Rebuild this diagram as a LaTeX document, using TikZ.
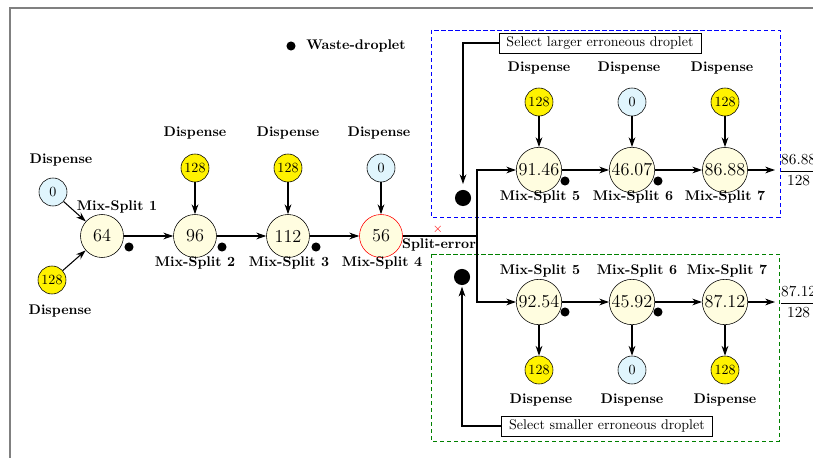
\documentclass[tikz,border=0pt]{standalone}
\usepackage{tikz}
\usetikzlibrary{arrows.meta, calc, positioning}
\usepackage{xcolor}

\begin{document}
\begin{tikzpicture}[x=0.714pt, y=-0.714pt,
    mixnode/.style={circle, draw, fill=yellow!12, font=\fontsize{13}{15}\selectfont, minimum size=30.7pt, inner sep=0.8pt},
    dispone/.style={circle, draw, fill=yellow, minimum size=20pt, inner sep=0pt},
    dispzero/.style={circle, draw, fill=cyan!12, minimum size=20pt, inner sep=0pt},
    lbl/.style={font=\bfseries, inner sep=0pt},
    waste/.style={circle, fill=black, minimum size=6.5pt, inner sep=0pt},
    bigwaste/.style={circle, fill=black, minimum size=11.5pt, inner sep=0pt},
    selbox/.style={draw, thin, inner xsep=5.5pt, inner ysep=2.6pt},
    errbox/.style={semithick, dash pattern=on 3pt off 2pt},
    outfrac/.style={anchor=west, inner sep=3pt, font=\fontsize{11}{13}\selectfont},
    flow/.style={line width=0.75pt, -{Stealth[length=7pt, width=4.8pt]}}]
      \useasboundingbox (0,0) rectangle (813,458);
      \clip (0,0) rectangle (813,458);

      % Frame
      \draw[gray, line width=1pt] (10,480) -- (10,8) -- (840,8);

      % Legend
      \node[waste] (legdot) at (291,46) {};
      \node[lbl] (legtxt) at (356,46) {Waste-droplet};

      % Mix-Split 1
      \node[dispzero] (d1a) at (53,192) {0};
      \node[dispone] (d1b) at (52,280) {128};
      \node[lbl] (t1a) at (61,160) {Dispense};
      \node[lbl] (t1b) at (60,311) {Dispense};
      \node[mixnode] (m1) at (102,236) {64};
      \node[lbl] (l1) at (117,207) {Mix-Split 1};
      \node[waste] (w1) at (129,247) {};
      \draw[flow] (d1a) -- (m1);
      \draw[flow] (d1b) -- (m1);

      % Mix-Split 2 to 4
      \node[mixnode] (m2) at (195,236) {96};
      \node[mixnode] (m3) at (288,236) {112};
      \node[mixnode, draw=red] (m4) at (381,236) {56};
      \node[dispone] (d2) at (195,168) {128};
      \node[dispone] (d3) at (288,168) {128};
      \node[dispzero] (d4) at (381,168) {0};
      \node[lbl] (t2) at (195,133) {Dispense};
      \node[lbl] (t3) at (288,133) {Dispense};
      \node[lbl] (t4) at (379,133) {Dispense};
      \node[lbl] (l2) at (195,263) {Mix-Split 2};
      \node[lbl] (l3) at (289,263) {Mix-Split 3};
      \node[lbl] (l4) at (382,263) {Mix-Split 4};
      \node[waste] (w2) at (222,247) {};
      \node[waste] (w3) at (316,247) {};
      \draw[flow] (m1) -- (m2);
      \draw[flow] (m2) -- (m3);
      \draw[flow] (m3) -- (m4);
      \draw[flow] (d2) -- (m2);
      \draw[flow] (d3) -- (m3);
      \draw[flow] (d4) -- (m4);

      % Split error
      \coordinate (sp) at (477,236);
      \node[red, font=\small, inner sep=0pt] (err) at (438,229) {$\times$};
      \node[lbl] (lerr) at (439,245) {Split-error};
      \draw[line width=0.75pt] (m4) -- (sp);

      % Larger erroneous droplet
      \draw[errbox, blue] (431,30) rectangle (780,217);
      \node[selbox] (sel1) at (600,43) {Select larger erroneous droplet};
      \node[bigwaste] (bw1) at (463,198) {};
      \draw[flow, shorten >=4pt] (sel1.west) -| (bw1);
      \node[mixnode] (m5a) at (539,170) {91.46};
      \node[mixnode] (m6a) at (632,170) {46.07};
      \node[mixnode] (m7a) at (725,170) {86.88};
      \node[dispone] (d5a) at (539,102) {128};
      \node[dispzero] (d6a) at (632,102) {0};
      \node[dispone] (d7a) at (725,102) {128};
      \node[lbl] (t5a) at (539,68) {Dispense};
      \node[lbl] (t6a) at (629,68) {Dispense};
      \node[lbl] (t7a) at (722,68) {Dispense};
      \node[lbl] (l5a) at (540,197) {Mix-Split 5};
      \node[lbl] (l6a) at (633,197) {Mix-Split 6};
      \node[lbl] (l7a) at (725,197) {Mix-Split 7};
      \node[waste] (w5a) at (565,181) {};
      \node[waste] (w6a) at (658,181) {};
      \node[outfrac] (out1) at (775,170) {$\displaystyle\frac{86.88}{128}$};
      \draw[flow] (sp) |- (m5a);
      \draw[flow] (m5a) -- (m6a);
      \draw[flow] (m6a) -- (m7a);
      \draw[flow] (m7a) -- (out1);
      \draw[flow] (d5a) -- (m5a);
      \draw[flow] (d6a) -- (m6a);
      \draw[flow] (d7a) -- (m7a);

      % Smaller erroneous droplet
      \draw[errbox, green!50!black] (431,254) rectangle (779,441);
      \node[selbox] (sel2) at (607,426) {Select smaller erroneous droplet};
      \node[bigwaste] (bw2) at (462,277) {};
      \draw[flow, shorten >=1pt] (sel2.west) -| (bw2);
      \node[mixnode] (m5b) at (539,302) {92.54};
      \node[mixnode] (m6b) at (632,302) {45.92};
      \node[mixnode] (m7b) at (725,302) {87.12};
      \node[dispone] (d5b) at (539,370) {128};
      \node[dispzero] (d6b) at (632,370) {0};
      \node[dispone] (d7b) at (725,370) {128};
      \node[lbl] (t5b) at (541,400) {Dispense};
      \node[lbl] (t6b) at (632,400) {Dispense};
      \node[lbl] (t7b) at (725,400) {Dispense};
      \node[lbl] (l5b) at (540,271) {Mix-Split 5};
      \node[lbl] (l6b) at (637,271) {Mix-Split 6};
      \node[lbl] (l7b) at (727,271) {Mix-Split 7};
      \node[waste] (w5b) at (565,312) {};
      \node[waste] (w6b) at (658,312) {};
      \node[outfrac] (out2) at (775,302) {$\displaystyle\frac{87.12}{128}$};
      \draw[flow] (sp) |- (m5b);
      \draw[flow] (m5b) -- (m6b);
      \draw[flow] (m6b) -- (m7b);
      \draw[flow] (m7b) -- (out2);
      \draw[flow] (m5b) -- (d5b);
      \draw[flow] (m6b) -- (d6b);
      \draw[flow] (m7b) -- (d7b);
\end{tikzpicture}
\end{document}
